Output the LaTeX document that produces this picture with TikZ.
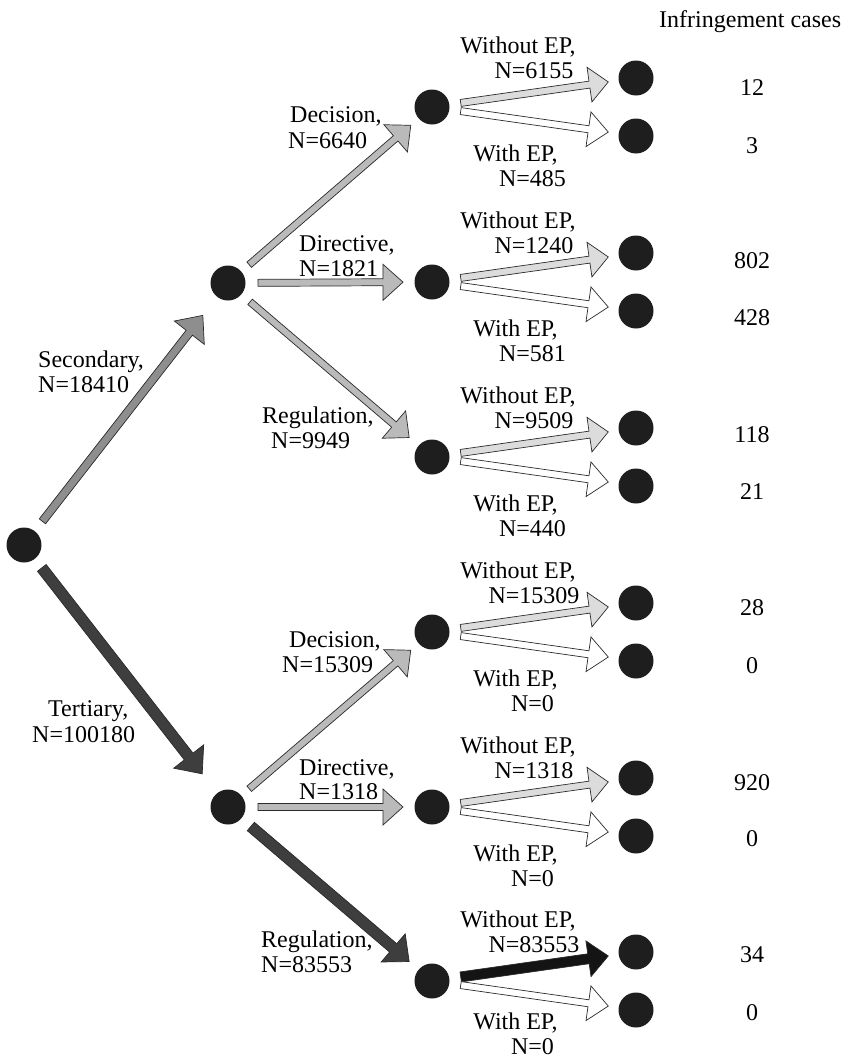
\documentclass[tikz,border=0pt]{standalone}
\usepackage{fontspec}
\setmainfont{Liberation Serif}
\usetikzlibrary{calc}
\definecolor{dotc}{HTML}{1E1E1E}
\definecolor{secc}{HTML}{8E8E8E}
\definecolor{terc}{HTML}{3E3E3E}
\definecolor{midc}{HTML}{BABABA}
\definecolor{woc}{HTML}{DCDCDC}
\definecolor{blkc}{HTML}{141414}
\definecolor{edgec}{HTML}{2A2A2A}
% block arrow: #1 style, #2 from node, #3 to node, #4 start gap, #5 end gap,
% #6 half shaft width, #7 half head width, #8 head length
\newcommand\barrow[8]{%
  \draw[#1] let \p1=($(#2)!#4!(#3)$), \p2=($(#3)!#5!(#2)$),
    \n1={atan2(\y2-\y1,\x2-\x1)} in
    ($(\p1)+({\n1+90}:#6)$) --
    ($(\p2)+({\n1+180}:#8)+({\n1+90}:#6)$) --
    ($(\p2)+({\n1+180}:#8)+({\n1+90}:#7)$) --
    (\p2) --
    ($(\p2)+({\n1+180}:#8)+({\n1-90}:#7)$) --
    ($(\p2)+({\n1+180}:#8)+({\n1-90}:#6)$) --
    ($(\p1)+({\n1-90}:#6)$) -- cycle;}
\begin{document}
\begin{tikzpicture}[x=1pt,y=-1pt,
  dot/.style={circle,fill=dotc,inner sep=0pt,minimum size=35pt},
  lbl/.style={anchor=base west,inner sep=0pt,font=\fontsize{24}{25}\selectfont},
  lblc/.style={lbl,anchor=base},
  arr/.style={draw=edgec,line width=0.7pt,line join=miter}]
\useasboundingbox (0,0) rectangle (842,1060);

\node[lbl] (head) at (659,27.5) {Infringement cases};

\node[dot] (r) at (24,545) {};
\node[dot] (s) at (228,283) {};
\node[dot] (t) at (228,807) {};

\foreach \nm/\cy/\wo/\w/\ca/\cb/\ya/\yb in {
  s1/107/6155/485/12/3/95/153,
  s2/282/1240/581/802/428/268/325,
  s3/457/9509/440/118/21/442/499,
  t1/632/15309/0/28/0/615/673,
  t2/807/1318/0/920/0/790/846,
  t3/981/83553/0/34/0/962/1020} {
  \node[dot] (\nm) at (432,\cy) {};
  \node[dot] (\nm-a) at (636,{\cy-29}) {};
  \node[dot] (\nm-b) at (636,{\cy+29}) {};
  \node[lblc] (\nm-wo1) at (518,{\cy-54}) {Without EP,};
  \node[lblc] (\nm-wo2) at (534,{\cy-29}) {N=\wo};
  \node[lblc] (\nm-w1) at (515.5,{min(\cy+54,1029)}) {With EP,};
  \node[lblc] (\nm-w2) at (532.5,{min(\cy+79,1054)}) {N=\w};
  \node[lblc] (\nm-ca) at (752,\ya) {\ca};
  \node[lblc] (\nm-cb) at (752,\yb) {\cb};
}

% first level
\barrow{arr,fill=secc}{r}{s}{30pt}{41pt}{4pt}{19pt}{22pt}
\barrow{arr,fill=terc}{r}{t}{29pt}{42pt}{5.5pt}{19pt}{22pt}
\node[lbl] (secl1) at (38,367) {Secondary,};
\node[lbl] (secl2) at (38,392.5) {N=18410};
\node[lbl] (terl1) at (48,716) {Tertiary,};
\node[lbl] (terl2) at (32,742) {N=100180};

% second level
\barrow{arr,fill=midc}{s}{s1}{28pt}{28pt}{3.5pt}{18pt}{20pt}
\barrow{arr,fill=midc}{s}{s2}{30pt}{29pt}{3.5pt}{18pt}{20pt}
\barrow{arr,fill=midc}{s}{s3}{29pt}{30pt}{3.5pt}{18pt}{20pt}
\barrow{arr,fill=midc}{t}{t1}{28pt}{28pt}{3.5pt}{18pt}{20pt}
\barrow{arr,fill=midc}{t}{t2}{30pt}{29pt}{3.5pt}{18pt}{20pt}
\barrow{arr,fill=terc}{t}{t3}{30pt}{30pt}{5.5pt}{18.5pt}{21pt}

\node[lbl] (s1l1) at (290,122.5) {Decision,};
\node[lbl] (s1l2) at (288,148) {N=6640};
\node[lbl] (s2l1) at (299,251) {Directive,};
\node[lbl] (s2l2) at (299,276) {N=1821};
\node[lbl] (s3l1) at (262,423.5) {Regulation,};
\node[lbl] (s3l2) at (271,448.5) {N=9949};
\node[lbl] (t1l1) at (289,647) {Decision,};
\node[lbl] (t1l2) at (282,672) {N=15309};
\node[lbl] (t2l1) at (299,775) {Directive,};
\node[lbl] (t2l2) at (299,799) {N=1318};
\node[lbl] (t3l1) at (261,947.5) {Regulation,};
\node[lbl] (t3l2) at (261,972.5) {N=83553};

% third level
\foreach \nm in {s1,s2,s3,t1,t2} {
  \barrow{arr,fill=woc}{\nm}{\nm-a}{29pt}{28pt}{3.5pt}{17.5pt}{19pt}
}
\barrow{arr,fill=blkc}{t3}{t3-a}{29pt}{28pt}{5pt}{18pt}{20pt}
\foreach \nm in {s1,s2,s3,t1,t2,t3} {
  \barrow{arr,fill=white}{\nm}{\nm-b}{29pt}{28pt}{3.5pt}{17.5pt}{20pt}
}
\end{tikzpicture}
\end{document}
